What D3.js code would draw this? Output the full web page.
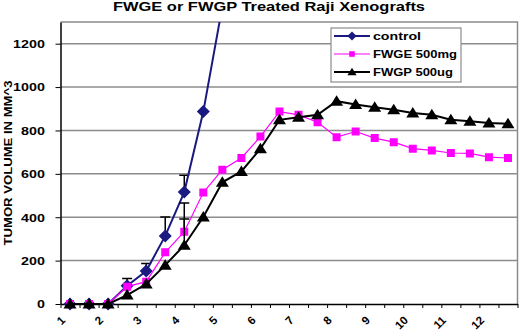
<!DOCTYPE html>
<html>
<head>
<meta charset="utf-8">
<script src="https://cdn.jsdelivr.net/npm/d3@7"></script>
<style>
body{margin:0;background:#fff;}
svg{display:block;font-family:Arial,"Liberation Sans",sans-serif;}
</style>
</head>
<body>
<svg id="chart"></svg>
<script>
// category labels (24 measurements, a label on every other one)
let xLabels=['1','','2','','3','','4','','5','','6','','7','','8','','9','','10','','11','','12',''];
let control=[0,0,0,84,152,314,516,887,1372];
let controlErr=[0,0,0,34,35,87,77,0,0];
let fwge=[0,0,0,80,103,238,333,514,619,673,772,887,872,838,769,795,765,746,716,708,696,694,677,673];
let fwgeErr=[0,0,0,0,0,0,133,0,0,0,0,0,0,0,0,0,0,0,0,0,0,0,0,0];
let fwgp=[0,0,0,41,92,179,271,401,561,611,716,849,861,872,935,920,907,895,881,872,849,843,834,831];
let fwgpErr=[0,0,0,0,0,0,121,0,0,0,0,0,0,0,0,0,0,0,0,0,0,0,0,0];
let yTicks=[0,200,400,600,800,1000,1200];
let seriesNames=['control','FWGE 500mg','FWGP 500ug'];

let width=520;
let height=331;
let padLeft=60.5, padRight=517.5, padTop=22, padBottom=304;
let svg=d3.select('#chart').attr('width',width).attr('height',height);

let idx=d3.range(xLabels.length);
let xScale=d3.scaleBand().domain(idx).range([padLeft,padRight]).padding(0);
let xEdge=d3.scaleLinear().domain([0,xLabels.length]).range([padLeft,padRight]);
let yScale=d3.scaleLinear().domain([0,1300]).range([padBottom,padTop]);

// title
svg.append('text')
   .attr('x',113).attr('y',10.5)
   .attr('font-size',13).attr('font-weight','bold')
   .attr('textLength',312).attr('lengthAdjust','spacingAndGlyphs')
   .text('FWGE or FWGP Treated Raji Xenografts');

// gridlines
svg.append('g').selectAll('line')
   .data(yTicks.filter(d=>d>0))
   .enter().append('line')
   .attr('x1',padLeft).attr('x2',padRight)
   .attr('y1',d=>yScale(d)).attr('y2',d=>yScale(d))
   .attr('stroke','#8c8c8c').attr('stroke-width',1.5);

// plot border (top/right)
svg.append('path')
   .attr('d','M'+padLeft+','+yScale(1300)+'H'+padRight+'V'+padBottom)
   .attr('fill','none').attr('stroke','#8c8c8c').attr('stroke-width',1.5);

// y axis
let yAxis=d3.axisLeft(yScale).tickValues(yTicks).tickFormat(d3.format('d')).tickSize(5).tickSizeOuter(0).tickPadding(7);
let yg=svg.append('g').attr('transform','translate('+padLeft+',0)').call(yAxis);
yg.select('.domain').attr('stroke','#000').attr('stroke-width',1.5);
yg.selectAll('.tick line').attr('stroke','#000');
yg.selectAll('.tick text')
  .attr('font-size',11).attr('font-weight','bold').attr('fill','#000')
  .attr('font-family','Arial,"Liberation Sans",sans-serif')
  .attr('transform','scale(1.3,1)').attr('dy','0.35em');

// x axis: ticks between categories
let xAxis=d3.axisBottom(xEdge).tickValues(d3.range(xLabels.length+1)).tickSize(4).tickSizeOuter(0).tickFormat('');
let xg=svg.append('g').attr('transform','translate(0,'+padBottom+')').call(xAxis);
xg.select('.domain').attr('stroke','#000').attr('stroke-width',1.5);
xg.selectAll('.tick line').attr('stroke','#000');

svg.append('g').selectAll('text')
   .data(idx.filter(i=>xLabels[i]!==''))
   .enter().append('text')
   .attr('text-anchor','end')
   .attr('font-size',11.5).attr('font-weight','bold')
   .attr('transform',i=>'translate('+(xScale(i)+xScale.bandwidth()/2-4)+',321) rotate(-45)')
   .text(i=>xLabels[i]);

// y label
svg.append('text')
   .attr('transform','translate(12,'+((padTop+padBottom)/2)+') rotate(-90)')
   .attr('text-anchor','middle')
   .attr('font-size',11).attr('font-weight','bold')
   .attr('textLength',165).attr('lengthAdjust','spacingAndGlyphs')
   .text('TUMOR VOLUME IN MM^3');

// clip
svg.append('clipPath').attr('id','plotclip')
   .append('rect').attr('x',padLeft).attr('y',padTop).attr('width',padRight-padLeft).attr('height',padBottom-padTop+8);

let plot=svg.append('g').attr('clip-path','url(#plotclip)');
let cx=i=>xScale(i)+xScale.bandwidth()/2;

let diamond='M0,-6.5L6.5,0L0,6.5L-6.5,0Z';
let square='M-4,-4H4V4H-4Z';
let triangle='M0,-6L6.5,4.5L-6.5,4.5Z';

let drawSeries=(values,errs,color,lineW,shape)=>{
    let g=plot.append('g');
    // plus-only error bars
    g.selectAll('.err')
     .data(values.map((v,i)=>({i:i,v:v,e:errs[i]})).filter(d=>d.e>0))
     .enter().append('path')
     .attr('d',d=>'M'+cx(d.i)+','+yScale(d.v)+'V'+yScale(d.v+d.e)+'M'+(cx(d.i)-5)+','+yScale(d.v+d.e)+'h10')
     .attr('stroke','#000').attr('stroke-width',1.5).attr('fill','none');
    let line=d3.line().x((d,i)=>cx(i)).y(d=>yScale(d));
    g.append('path').datum(values)
     .attr('d',line)
     .attr('fill','none').attr('stroke',color).attr('stroke-width',lineW);
    g.selectAll('.mk')
     .data(values)
     .enter().append('path')
     .attr('d',shape)
     .attr('transform',(d,i)=>'translate('+cx(i)+','+yScale(d)+')')
     .attr('fill',color);
};

drawSeries(control,controlErr,'#1a1a80',2,diamond);
drawSeries(fwge,fwgeErr,'#ff00ff',1.2,square);
drawSeries(fwgp,fwgpErr,'#000000',2,triangle);

// legend
let legend=svg.append('g');
legend.append('rect')
   .attr('x',331).attr('y',28).attr('width',130).attr('height',54)
   .attr('fill','#fff').attr('stroke','#8c8c8c').attr('stroke-width',1.2);
let legColors=['#1a1a80','#ff00ff','#000000'];
let legShapes=[diamond,square,triangle];
let legWidths=[2,1.2,2];
let legText=[48,84,80];
seriesNames.forEach((name,k)=>{
    let y=36+k*18;
    legend.append('line').attr('x1',334).attr('x2',370).attr('y1',y).attr('y2',y)
          .attr('stroke',legColors[k]).attr('stroke-width',legWidths[k]);
    legend.append('path').attr('d',legShapes[k])
          .attr('transform','translate(352,'+y+') scale(0.7)')
          .attr('fill',legColors[k]);
    legend.append('text').attr('x',373).attr('y',y+4)
          .attr('font-size',11.5).attr('font-weight','bold')
          .attr('textLength',legText[k]).attr('lengthAdjust','spacingAndGlyphs')
          .text(name);
});
</script>
</body>
</html>
